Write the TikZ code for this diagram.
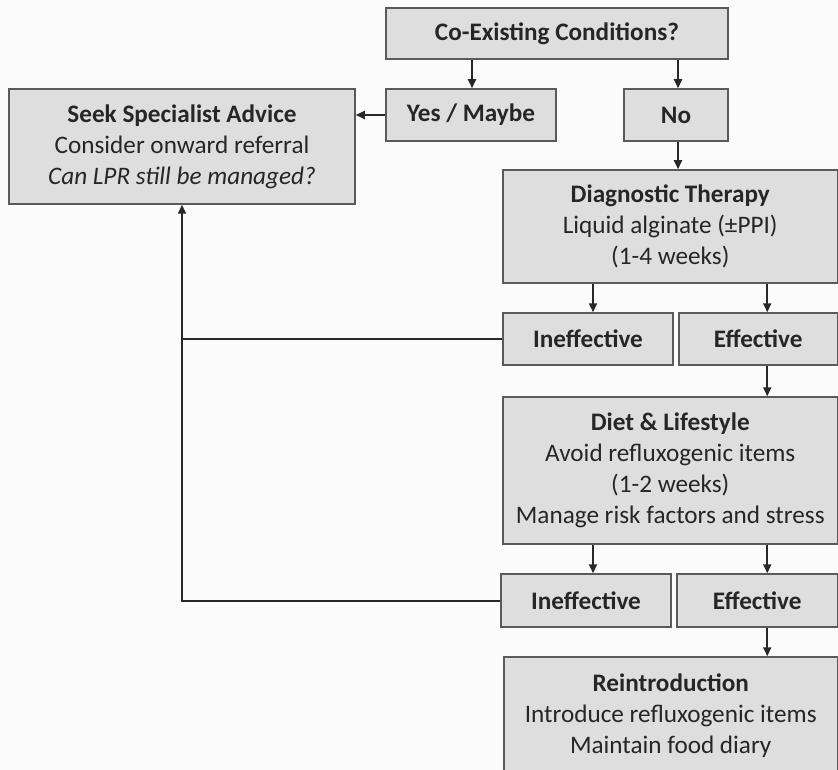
\documentclass[tikz,border=0pt]{standalone}
\usepackage{fontspec}
\setmainfont{Carlito}
\usepackage{xcolor}
\usepackage{tikz}
\usetikzlibrary{arrows.meta,positioning,calc}
\definecolor{boxfill}{RGB}{222,222,222}
\definecolor{boxline}{RGB}{90,90,90}
\definecolor{linkcol}{RGB}{40,40,40}
\definecolor{pagebg}{RGB}{251,251,251}

\begin{document}
\begin{tikzpicture}[x=1pt, y=-1pt,
    box/.style={draw=boxline, fill=boxfill, line width=1.5pt, align=center, inner sep=0pt,
                text=black!85, font=\fontsize{25.2}{31}\selectfont},
    arrow/.style={-{Triangle[length=9pt,width=8pt]}, draw=linkcol, line width=2pt},
    line/.style={draw=linkcol, line width=2pt}
]
\useasboundingbox[fill=pagebg] (0,0) rectangle (838,770);

\node[box, minimum width=342, minimum height=51] (cond) at (557,33.5) {\textbf{Co-Existing Conditions?}};
\node[box, minimum width=170, minimum height=52] (yes) at (471,115) {\textbf{Yes / Maybe}};
\node[box, minimum width=104, minimum height=52] (no) at (676,115) {\textbf{No}};
\node[box, minimum width=346, minimum height=115] (seek) at (182,146.5) {\textbf{Seek Specialist Advice}\\
      Consider onward referral\\\textit{Can LPR still be managed?}};
\node[box, minimum width=334.5, minimum height=113] (diag) at (670.25,226.5) {\textbf{Diagnostic Therapy}\\
      Liquid alginate (±PPI)\\(1-4 weeks)};
\node[box, minimum width=170, minimum height=52] (ineffA) at (588,339) {\textbf{Ineffective}};
\node[box, minimum width=158.5, minimum height=52] (effA) at (758.25,339) {\textbf{Effective}};
\node[box, minimum width=334.5, minimum height=147] (diet) at (670.25,470.5) {\textbf{Diet \& Lifestyle}\\
      Avoid refluxogenic items\\(1-2 weeks)\\Manage risk factors and stress};
\node[box, minimum width=170, minimum height=53] (ineffB) at (586,600.5) {\textbf{Ineffective}};
\node[box, minimum width=160.5, minimum height=53] (effB) at (757.25,600.5) {\textbf{Effective}};
\node[box, minimum width=333.5, minimum height=118] (reint) at (670.75,716) {\textbf{Reintroduction}\\
      Introduce refluxogenic items\\Maintain food diary};

% branches
\draw[arrow] ([xshift=1]cond.south -| yes.north) -- ([xshift=1]yes.north);
\draw[arrow] ([xshift=2]cond.south -| no.north) -- ([xshift=2]no.north);
\draw[arrow] (yes.west) -- (seek.east |- yes.west);
\draw[arrow] ([xshift=2]no.south) -- ([xshift=2]diag.north -| no.south);
\draw[arrow] ([xshift=5]diag.south -| ineffA.north) -- ([xshift=5]ineffA.north);
\draw[arrow] ([xshift=9]diag.south -| effA.north) -- ([xshift=9]effA.north);
\draw[arrow] ([xshift=9]effA.south) -- ([xshift=9]diet.north -| effA.south);
\draw[arrow] ([xshift=7]diet.south -| ineffB.north) -- ([xshift=7]ineffB.north);
\draw[arrow] ([xshift=10]diet.south -| effB.north) -- ([xshift=10]effB.north);
\draw[arrow] ([xshift=10]effB.south) -- ([xshift=10]reint.north -| effB.south);
% back to specialist
\draw[line] (ineffA.west) -- (ineffA.west -| seek.south);
\draw[arrow] (ineffB.west) -| (seek.south);
\end{tikzpicture}
\end{document}
